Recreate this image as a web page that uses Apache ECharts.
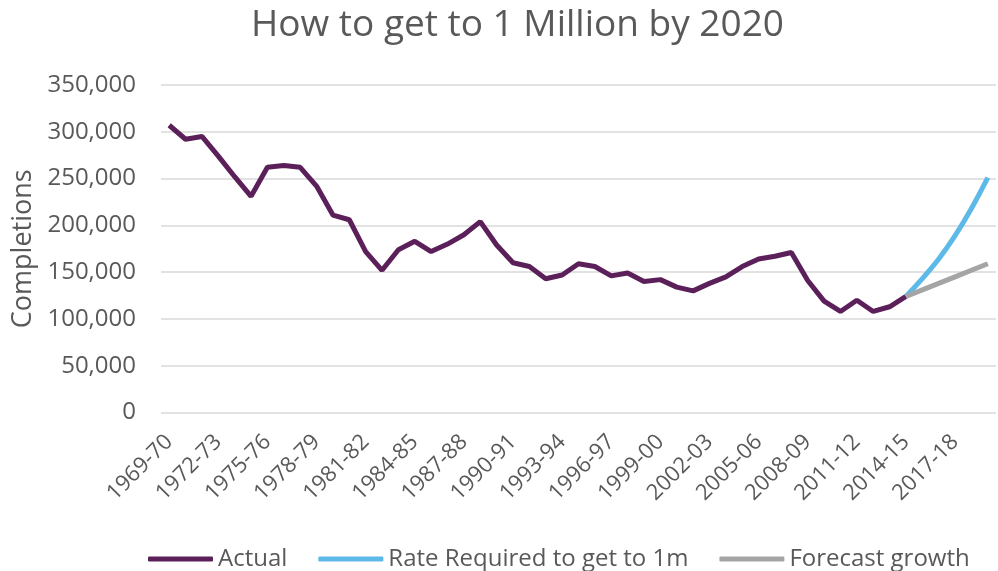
<!DOCTYPE html>
<html>
<head>
<meta charset="utf-8">
<script src="https://cdn.jsdelivr.net/npm/echarts@6/dist/echarts.min.js"></script>
<style>html,body{margin:0;padding:0;background:#fff}#c{width:998px;height:571px}</style>
</head>
<body>
<div id="c"></div>
<script>
var categories = [];
for (var y = 1969; y <= 2019; y++) {
  categories.push(y + '-' + String((y + 1) % 100).padStart(2, '0'));
}
var actual = [307000, 292000, 295000, 274000, 252000, 231000, 262000, 264000, 262000, 242000,
  211000, 206000, 172000, 152000, 174000, 183000, 172000, 180000, 190000, 204000,
  179000, 160000, 156000, 143000, 147000, 159000, 156000, 146000, 149000, 140000,
  142000, 134000, 130000, 138000, 145000, 156000, 164000, 167000, 171000, 141000,
  119000, 108000, 120000, 108000, 113000, 124000];
var required = [124000, 143000, 164000, 189000, 218000, 251000];
var forecast = [124000, 131000, 138000, 145000, 152000, 159000];
var yTicks = { min: 0, max: 350000, interval: 50000 };

function pad(arr, offset) {
  var out = [];
  for (var i = 0; i < categories.length; i++) {
    var j = i - offset;
    out.push(j >= 0 && j < arr.length ? arr[j] : null);
  }
  return out;
}
var FONT = 'Open Sans';
var TXT = '#595959';
var chart = echarts.init(document.getElementById('c'));
chart.setOption({
  animation: false,
  textStyle: { fontFamily: FONT },
  title: {
    text: 'How to get to 1 Million by 2020',
    left: 246, top: 2,
    textStyle: { fontFamily: FONT, fontSize: 37, fontWeight: 'normal', color: TXT }
  },
  legend: {
    left: 148, bottom: 0, padding: 0,
    icon: 'roundRect',
    itemWidth: 65, itemHeight: 5, itemGap: 31,
    textStyle: { fontFamily: FONT, fontSize: 24, color: TXT },
    data: ['Actual', 'Rate Required to get to 1m', 'Forecast growth']
  },
  grid: { left: 161, right: 2, top: 85, bottom: 158.5, containLabel: false },
  xAxis: {
    type: 'category', data: categories, boundaryGap: true,
    axisLine: { show: false }, axisTick: { show: false },
    axisLabel: { interval: 2, rotate: 45, fontFamily: FONT, fontSize: 22, color: TXT, margin: 26 }
  },
  yAxis: {
    type: 'value', min: yTicks.min, max: yTicks.max, interval: yTicks.interval,
    name: 'Completions', nameLocation: 'middle', nameGap: 114,
    nameTextStyle: { fontFamily: FONT, fontSize: 27, color: TXT },
    axisLine: { show: false }, axisTick: { show: false },
    axisLabel: {
      fontFamily: FONT, fontSize: 24, color: TXT, margin: 25,
      formatter: function (v) { return v.toLocaleString('en-US'); }
    },
    splitLine: { lineStyle: { color: '#D9D9D9', width: 1.5 } }
  },
  series: [
    { name: 'Actual', type: 'line', data: pad(actual, 0), symbol: 'none',
      lineStyle: { color: '#5B2059', width: 5 }, itemStyle: { color: '#5B2059' } },
    { name: 'Rate Required to get to 1m', type: 'line', data: pad(required, 45), symbol: 'none', smooth: 0.3,
      lineStyle: { color: '#5DB9E7', width: 5 }, itemStyle: { color: '#5DB9E7' } },
    { name: 'Forecast growth', type: 'line', data: pad(forecast, 45), symbol: 'none',
      lineStyle: { color: '#A5A5A5', width: 5 }, itemStyle: { color: '#A5A5A5' } }
  ]
});
</script>
</body>
</html>
